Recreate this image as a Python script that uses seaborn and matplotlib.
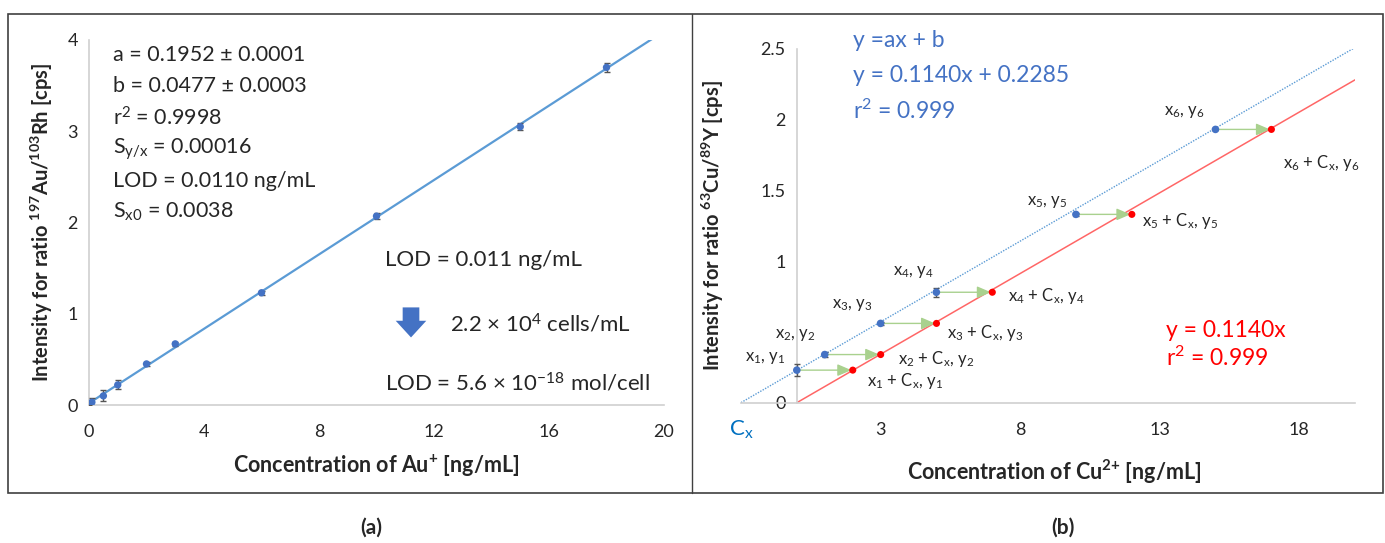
import numpy as np
import matplotlib
matplotlib.use("Agg")
import matplotlib.pyplot as plt
from matplotlib.patches import Rectangle
from matplotlib.lines import Line2D
import seaborn as sns

# ---- panel (a): Au calibration ----
au_conc = [0, 0.1, 0.5, 1, 2, 3, 6, 10, 15, 18]
au_ratio = [0.01, 0.03, 0.10, 0.22, 0.45, 0.67, 1.23, 2.07, 3.05, 3.70]
au_err = [0.01, 0.05, 0.06, 0.05, 0.02, 0.02, 0.02, 0.03, 0.04, 0.05]
au_stats = ["a = 0.1952 ± 0.0001", "b = 0.0477 ± 0.0003", "r$^2$ = 0.9998",
            "S$_{y/x}$ = 0.00016", "LOD = 0.0110 ng/mL", "S$_{x0}$ = 0.0038"]

# ---- panel (b): standard addition for Cu ----
cu_conc = [0, 1, 3, 5, 10, 15]
cu_ratio = [0.23, 0.34, 0.56, 0.78, 1.33, 1.93]
cu_err = [0.04, 0.02, 0.01, 0.03, 0.01, 0.005]
slope_a = 0.1140
icpt_b = 0.2285
cu_xticks = [-2, 3, 8, 13, 18]
cu_xticklabels = ["", "3", "8", "13", "18"]

sns.set_style("white")
plt.rcParams["font.family"] = ["Lato", "DejaVu Sans"]
plt.rcParams["mathtext.fontset"] = "custom"
plt.rcParams["mathtext.rm"] = "Lato"
plt.rcParams["mathtext.bf"] = "Lato:bold"
plt.rcParams["mathtext.default"] = "regular"

BLUE = "#4472C4"
LBLUE = "#5B9BD5"
RED = "#FF0000"
GREEN = "#A9D18E"
AX = "#D0D0D0"
TXT = "#262626"

fig = plt.figure(figsize=(13.85, 5.43), dpi=100)
W, H = 1385, 543

def px_axes(x0, x1, y_top, y_bot):
    return fig.add_axes([x0 / W, 1 - y_bot / H, (x1 - x0) / W, (y_bot - y_top) / H])

# ---------------- (a) ----------------
ax1 = px_axes(89, 664, 40, 405)
ax1.set_xlim(0, 20)
ax1.set_ylim(0, 4)
sns.regplot(x=au_conc, y=au_ratio, ax=ax1, scatter=False, ci=None, truncate=False,
            line_kws=dict(color=LBLUE, lw=1.6))
ax1.errorbar(au_conc, au_ratio, yerr=au_err, fmt="none", ecolor="#555555",
             elinewidth=1, capsize=2.5, capthick=1, zorder=3)
sns.scatterplot(x=au_conc, y=au_ratio, ax=ax1, color=BLUE, s=28, edgecolor="none", zorder=4)
ax1.set_xlim(0, 20)
ax1.set_ylim(0, 4)
ax1.set_xticks(range(0, 21, 4))
ax1.set_yticks(range(0, 5))

for i, s in enumerate(au_stats):
    ax1.text(0.83, 3.84 - i * 0.345, s, fontsize=15.5, color=TXT, va="center", ha="left")
ax1.text(10.3, 1.59, "LOD = 0.011 ng/mL", fontsize=16, color=TXT, va="center")
ax1.text(12.56, 0.88, "2.2 × 10$^4$ cells/mL", fontsize=16, color=TXT, va="center")
ax1.text(10.3, 0.24, "LOD = 5.6 × 10$^{-18}$ mol/cell", fontsize=16, color=TXT, va="center")
ax1.annotate("", xy=(11.2, 0.71), xytext=(11.2, 1.10),
             arrowprops=dict(arrowstyle="simple,head_length=1.2,head_width=2.2,tail_width=1.2",
                             mutation_scale=10, color=BLUE, lw=0))

ax1.set_xlabel("Concentration of Au$^{\\mathbf{+}}$ [ng/mL]", fontsize=15.5, fontweight="bold",
               color=TXT)
ax1.set_ylabel("Intensity for ratio $^{\\mathbf{197}}$Au/$^{\\mathbf{103}}$Rh [cps]", fontsize=14.5,
               fontweight="bold", color=TXT)
ax1.xaxis.set_label_coords(0.5, (405 - 453) / 365)
ax1.yaxis.set_label_coords((55 - 89) / 575, 0.5)

# ---------------- (b) ----------------
ax2 = px_axes(741, 1355, 48.7, 402.7)
xs = np.array([-2, 20])
cx = icpt_b / slope_a
ax2.plot(xs, slope_a * xs + icpt_b, color=LBLUE, lw=1, ls=(0, (1, 1)))
xr = np.array([0, 20])
ax2.plot(xr, slope_a * xr, color="#FF6666", lw=1.1)

for x, y in zip(cu_conc, cu_ratio):
    ax2.annotate("", xy=(x + cx, y), xytext=(x, y),
                 arrowprops=dict(arrowstyle="-|>,head_length=0.7,head_width=0.3",
                                 color=GREEN, lw=1.0, shrinkA=2, shrinkB=1,
                                 mutation_scale=12))
ax2.errorbar(cu_conc, cu_ratio, yerr=cu_err, fmt="none", ecolor="#555555",
             elinewidth=1, capsize=2.5, capthick=1, zorder=3)
sns.scatterplot(x=cu_conc, y=cu_ratio, ax=ax2, color=BLUE, s=30, edgecolor="none", zorder=4)
sns.scatterplot(x=[c + cx for c in cu_conc], y=cu_ratio, ax=ax2, color=RED, s=26,
                edgecolor="none", zorder=4)

lbl_blue_pos = [(-0.4, 0.316, "right"), (-0.04, 0.48, "center"), (1.98, 0.69, "center"),
                (4.17, 0.92, "center"), (8.96, 1.42, "center"), (13.9, 2.05, "center")]
lbl_red_pos = [(3.88, 0.15), (5.0, 0.31), (6.76, 0.49), (8.92, 0.75), (13.74, 1.28), (18.8, 1.69)]
for i, (px, py, ha) in enumerate(lbl_blue_pos, start=1):
    ax2.text(px, py, f"x$_{i}$, y$_{i}$", fontsize=12, color=TXT, ha=ha, va="center")
for i, (px, py) in enumerate(lbl_red_pos, start=1):
    ax2.text(px, py, f"x$_{i}$ + C$_x$, y$_{i}$", fontsize=12, color=TXT, ha="center", va="center")

for i, s in enumerate(["y =ax + b", "y = 0.1140x + 0.2285", "r$^2$ = 0.999"]):
    ax2.text(2.0, 2.56 - i * 0.25, s, fontsize=16.5, color=BLUE, va="center", clip_on=False)
ax2.text(13.24, 0.51, "y = 0.1140x", fontsize=16.5, color=RED, va="center")
ax2.text(13.24, 0.32, "r$^2$ = 0.999", fontsize=16.5, color=RED, va="center")

ax2.set_xlim(-2, 20)
ax2.set_ylim(0, 2.5)
ax2.spines["left"].set_position(("data", 0))
ax2.set_xticks(cu_xticks)
ax2.set_xticklabels(cu_xticklabels)
ax2.set_yticks([0, 0.5, 1, 1.5, 2, 2.5])
ax2.set_yticklabels(["0", "", "1", "1.5", "2", "2.5"])
ax2.text(-2, -0.19, "C$_x$", fontsize=16, color="#0070C0", ha="center", va="center",
         clip_on=False)

ax2.set_xlabel("Concentration of Cu$^{\\mathbf{2{+}}}$ [ng/mL]", fontsize=15.5, fontweight="bold",
               color=TXT)
ax2.set_ylabel("Intensity for ratio $^{\\mathbf{63}}$Cu/$^{\\mathbf{89}}$Y [cps]", fontsize=14.5,
               fontweight="bold", color=TXT)
ax2.xaxis.set_label_coords((1054 - 741) / 614, (402.7 - 458) / 354)
ax2.yaxis.set_label_coords((726 - 741) / 614, 0.5)

for ax in (ax1, ax2):
    sns.despine(ax=ax)
    for sp in ("left", "bottom"):
        ax.spines[sp].set_color(AX)
        ax.spines[sp].set_linewidth(1.2)
    ax.tick_params(axis="both", direction="out", length=4, width=1, color=AX,
                   labelsize=13, labelcolor=TXT, pad=4)
    ax.tick_params(axis="x", pad=10)

# frame around both panels
fig.add_artist(Rectangle((8 / W, 1 - 493 / H), (1383 - 8) / W, (493 - 14) / H,
                         transform=fig.transFigure, fill=False, ec="#404040", lw=1.2))
fig.add_artist(Line2D([692 / W, 692 / W], [1 - 493 / H, 1 - 14 / H],
                      transform=fig.transFigure, color="#404040", lw=1))
fig.text(371 / W, 1 - 528 / H, "(a)", fontsize=15, fontweight="bold", ha="center", va="center")
fig.text(1063 / W, 1 - 528 / H, "(b)", fontsize=15, fontweight="bold", ha="center", va="center")

fig.savefig("out.png", dpi=100)
